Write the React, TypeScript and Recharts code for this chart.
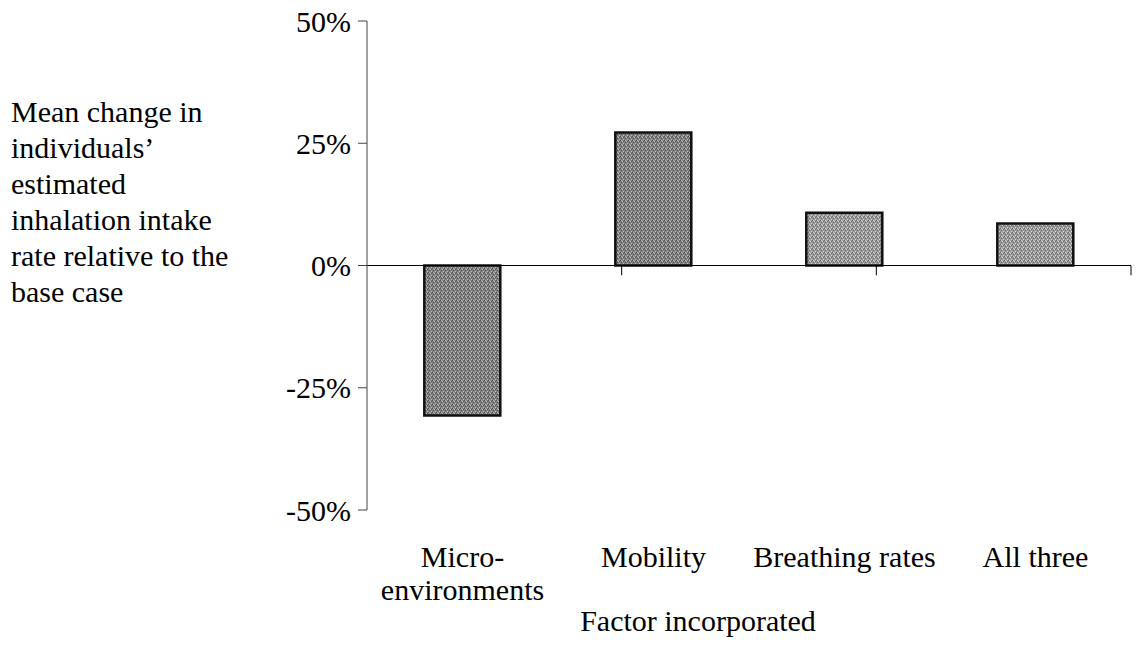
import { BarChart, Bar, XAxis, YAxis, ReferenceLine, Cell } from "recharts"

// values (percent change vs base case)
const categories = ["Micro-\nenvironments", "Mobility", "Breathing rates", "All three"]
const meanChange = [-30.7, 27.2, 10.8, 8.6]
const yTicks = [-50, -25, 0, 25, 50]
const boundaries = [1, 2, 3, 4]
const yTitleLines = [
  "Mean change in",
  "individuals\u2019",
  "estimated",
  "inhalation intake",
  "rate relative to the",
  "base case",
]
const xTitle = "Factor incorporated"

// halftone-ish fills, like the scanned original
const barFills = ["url(#dotsDark)", "url(#dotsDark)", "url(#dotsLight)", "url(#dotsLight)"]

const data = categories.map((name, i) => ({ name, value: meanChange[i] }))

const font = "'Liberation Serif', 'Times New Roman', serif"

function CategoryTick(props: any) {
  const { x, y, payload } = props
  const lines = String(payload.value).split("\n")
  return (
    <text x={x} y={y} textAnchor="middle" fill="#000" fontSize={30} fontFamily={font}>
      {lines.map((l, i) => (
        <tspan key={i} x={x} dy={i === 0 ? 57 : 33}>
          {l}
        </tspan>
      ))}
    </text>
  )
}

function YTitle() {
  return (
    <text x={11} y={122} fill="#000" fontSize={30} fontFamily={font}>
      {yTitleLines.map((l, i) => (
        <tspan key={i} x={11} dy={i === 0 ? 0 : 36}>
          {l}
        </tspan>
      ))}
    </text>
  )
}

function XTitle() {
  return (
    <text x={698} y={631} textAnchor="middle" fill="#000" fontSize={30} fontFamily={font}>
      {xTitle}
    </text>
  )
}

export default function App() {
  return (
    <div style={{ position: "absolute", left: 0, top: 0, background: "#fff" }}>
      <BarChart
        width={1136}
        height={651}
        data={data}
        margin={{ top: 21, right: 5, bottom: 0, left: 0 }}
        barCategoryGap="30%"
      >
        <defs>
          <pattern id="dotsDark" width="4" height="4" patternUnits="userSpaceOnUse">
            <rect width="4" height="4" fill="#808080" />
            <rect x="0" y="0" width="1" height="1" fill="#4c4c4c" />
            <rect x="1" y="0" width="1" height="1" fill="#b4b4b4" />
            <rect x="2" y="1" width="1" height="1" fill="#c2c2c2" />
            <rect x="3" y="1" width="1" height="1" fill="#565656" />
            <rect x="1" y="2" width="1" height="1" fill="#525252" />
            <rect x="3" y="3" width="1" height="1" fill="#bdbdbd" />
          </pattern>
          <pattern id="dotsLight" width="4" height="4" patternUnits="userSpaceOnUse">
            <rect width="4" height="4" fill="#9a9a9a" />
            <rect x="0" y="0" width="1" height="1" fill="#666" />
            <rect x="1" y="0" width="1" height="1" fill="#d0d0d0" />
            <rect x="2" y="1" width="1" height="1" fill="#d6d6d6" />
            <rect x="3" y="1" width="1" height="1" fill="#6e6e6e" />
            <rect x="1" y="2" width="1" height="1" fill="#6a6a6a" />
            <rect x="3" y="3" width="1" height="1" fill="#d2d2d2" />
          </pattern>
        </defs>
        <XAxis
          xAxisId="cat"
          dataKey="name"
          height={141}
          axisLine={false}
          tickLine={false}
          tickSize={0}
          tickMargin={0}
          interval={0}
          tick={<CategoryTick />}
          label={<XTitle />}
        />
        <XAxis xAxisId="edge" type="number" domain={[0, 4]} hide />
        <YAxis
          width={367}
          domain={[-50, 50]}
          ticks={yTicks}
          interval={0}
          tickFormatter={(v) => `${v}%`}
          tickSize={9}
          tickMargin={7}
          axisLine={{ stroke: "#444" }}
          tickLine={{ stroke: "#444" }}
          tick={{ fill: "#000", fontSize: 30, fontFamily: font }}
          label={<YTitle />}
        />
        <Bar xAxisId="cat" dataKey="value" stroke="#111" strokeWidth={2.5} isAnimationActive={false}>
          {data.map((d, i) => (
            <Cell key={d.name} fill={barFills[i]} />
          ))}
        </Bar>
        <ReferenceLine xAxisId="cat" y={0} stroke="#000" strokeWidth={1} />
        {boundaries.map((b) => (
          <ReferenceLine
            key={b}
            xAxisId="edge"
            segment={[
              { x: b, y: 0 },
              { x: b, y: -2 },
            ]}
            stroke="#000"
          />
        ))}
      </BarChart>
    </div>
  )
}
